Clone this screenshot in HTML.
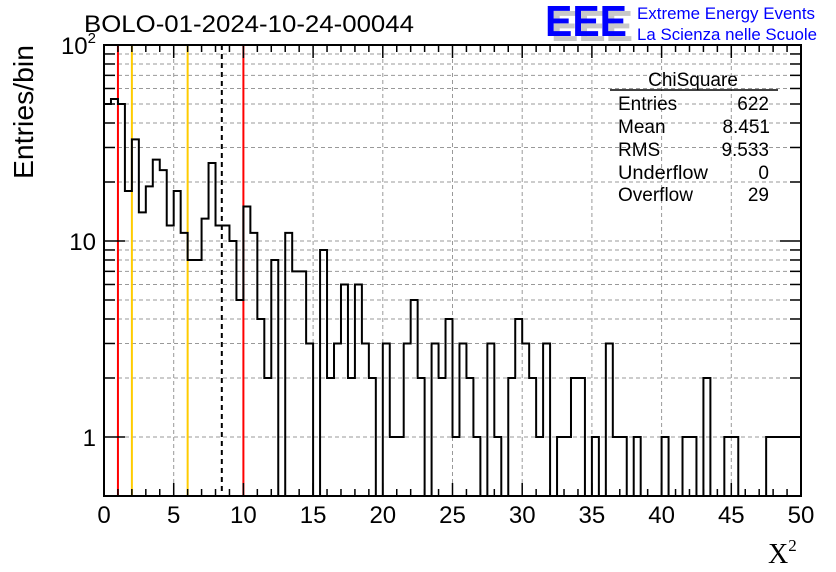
<!DOCTYPE html>
<html><head><meta charset="utf-8">
<style>
html,body{margin:0;padding:0;background:#fff;}
svg{display:block;font-family:"Liberation Sans",sans-serif;}
</style></head>
<body>
<svg id="chart" width="836" height="572" viewBox="0 0 836 572">
  <rect x="0" y="0" width="836" height="572" fill="#fff"/>
  <g id="grid"></g>
  <g id="markers"></g>
  <path id="hist" fill="none" stroke="#000" stroke-width="2"/>
  <g id="axes"></g>
  <text x="84" y="32" font-size="24" textLength="330" lengthAdjust="spacingAndGlyphs">BOLO-01-2024-10-24-00044</text>
  <text transform="translate(33,179) rotate(-90)" font-size="28" textLength="134" lengthAdjust="spacingAndGlyphs">Entries/bin</text>
  <text x="768" y="563" font-size="28" font-family="Liberation Serif, serif">X<tspan font-size="17" dy="-12">2</tspan></text>
  <g>
    <text x="551" y="41" font-size="44" font-weight="bold" fill="#c8c8c8" textLength="82" lengthAdjust="spacingAndGlyphs">EEE</text>
    <text x="545" y="36" font-size="44" font-weight="bold" fill="#0000ff" textLength="82" lengthAdjust="spacingAndGlyphs">EEE</text>
    <text x="637" y="19" font-size="17" fill="#0000ff" textLength="178" lengthAdjust="spacingAndGlyphs">Extreme Energy Events</text>
    <text x="637" y="40" font-size="17" fill="#0000ff" textLength="180" lengthAdjust="spacingAndGlyphs">La Scienza nelle Scuole</text>
  </g>
  <g font-size="19">
    <text x="693" y="86" text-anchor="middle">ChiSquare</text>
    <line x1="610" y1="90" x2="778" y2="90" stroke="#000" stroke-width="1.5"/>
    <text x="618" y="110">Entries</text><text x="769" y="110" text-anchor="end">622</text>
    <text x="618" y="133">Mean</text><text x="770" y="133" text-anchor="end">8.451</text>
    <text x="618" y="156">RMS</text><text x="769" y="156" text-anchor="end">9.533</text>
    <text x="618" y="179" textLength="90" lengthAdjust="spacingAndGlyphs">Underflow</text><text x="769" y="179" text-anchor="end">0</text>
    <text x="618" y="201">Overflow</text><text x="769" y="201" text-anchor="end">29</text>
  </g>
</svg>
<script>
const binWidth = 0.5;
const counts = [50,53,50,18,33,14,19,26,23,12,18,11,8,8,13,25,12,12,10,5,15,11,4,2,8,0,11,7,7,3,0,9,2,3,
6,2,6,3,2,0,3,1,1,3,5,2,0,3,2,4,1,3,2,1,0,3,1,0,2,4,3,2,1,3,0,1,
1,2,2,0,1,0,3,1,1,0,1,0,0,0,1,0,0,1,1,0,2,0,0,1,1,0,0,0,0,1,1,1,1,1];
const xTicks = [0,5,10,15,20,25,30,35,40,45,50];
const yMajor = [1,10,100];
const yMajorLabels = ["1","10","10^2"];
const redLines = [1,10];
const yellowLines = [2,6];
const meanLine = [8.451];

const X0=104,X1=801,Y0=45,Y1=496,xMin=0,xMax=50,yMin=0.5,yMax=100;
const NS="http://www.w3.org/2000/svg";
function sx(v){return X0+(v-xMin)/(xMax-xMin)*(X1-X0);}
function sy(v){return Y1-(Math.log10(v)-Math.log10(yMin))/(Math.log10(yMax)-Math.log10(yMin))*(Y1-Y0);}
function mk(tag,attrs,parent){const e=document.createElementNS(NS,tag);for(const k in attrs)e.setAttribute(k,attrs[k]);parent.appendChild(e);return e;}

const grid=document.getElementById('grid');
const yMinors=[];
for(let d=0.1;d<=10;d*=10){for(let m=1;m<=9;m++){const v=+(m*d*10).toFixed(6);if(v>=0.6&&v<100)yMinors.push(v);}}
yMinors.forEach(v=>{
  const l=mk('line',{x1:X0,x2:X1,y1:sy(v),y2:sy(v),stroke:'#999','stroke-dasharray':'4,3','stroke-width':1},grid);
  
  
});
xTicks.forEach(v=>{
  const l=mk('line',{x1:sx(v),x2:sx(v),y1:Y0,y2:Y1,stroke:'#999','stroke-dasharray':'4,3','stroke-width':1},grid);
  
  
});

const mg=document.getElementById('markers');
redLines.forEach(v=>{const l=mk('line',{x1:sx(v),x2:sx(v),y1:Y0,y2:Y1,stroke:'#ff0000','stroke-width':2},mg);
  
  });
yellowLines.forEach(v=>{const l=mk('line',{x1:sx(v),x2:sx(v),y1:Y0,y2:Y1,stroke:'#ffcc00','stroke-width':2},mg);
  
  });
meanLine.forEach(v=>{const l=mk('line',{x1:sx(v),x2:sx(v),y1:Y0,y2:Y1,stroke:'#000','stroke-width':2,'stroke-dasharray':'5,4'},mg);
  
  });

let d='';
counts.forEach((c,i)=>{
  const xa=sx(i*binWidth),xb=sx((i+1)*binWidth);
  const y=c>0?sy(c):Y1;
  d+=(i===0?'M'+xa+','+y:'L'+xa+','+y)+'L'+xb+','+y;
});
document.getElementById('hist').setAttribute('d',d);

const ax=document.getElementById('axes');
mk('rect',{x:X0,y:Y0,width:X1-X0,height:Y1-Y0,fill:'none',stroke:'#000','stroke-width':2},ax);
for(let v=0;v<=50;v++){
  const len=v%5===0?13:7,x=sx(v);
  mk('line',{x1:x,x2:x,y1:Y1,y2:Y1-len,stroke:'#000','stroke-width':1.5},ax);
  mk('line',{x1:x,x2:x,y1:Y0,y2:Y0+len,stroke:'#000','stroke-width':1.5},ax);
}
xTicks.forEach(v=>{
  const t=mk('text',{x:sx(v),y:523,'font-size':24,'text-anchor':'middle'},ax);
  t.textContent=String(v);
  
  
});
yMinors.forEach(v=>{
  const len=yMajor.includes(v)?21:11,y=sy(v);
  mk('line',{x1:X0,x2:X0+len,y1:y,y2:y,stroke:'#000','stroke-width':1.5},ax);
  mk('line',{x1:X1,x2:X1-len,y1:y,y2:y,stroke:'#000','stroke-width':1.5},ax);
});
yMajor.forEach((v,i)=>{
  const t=mk('text',{x:96,y:sy(v)+9,'font-size':24,'text-anchor':'end'},ax);
  const lab=yMajorLabels[i];
  if(lab.includes('^')){const p=lab.split('^');t.textContent=p[0];const s=mk('tspan',{'font-size':15,dy:-11},t);s.textContent=p[1];}
  else t.textContent=lab;
  
  
});
</script>
</body></html>
